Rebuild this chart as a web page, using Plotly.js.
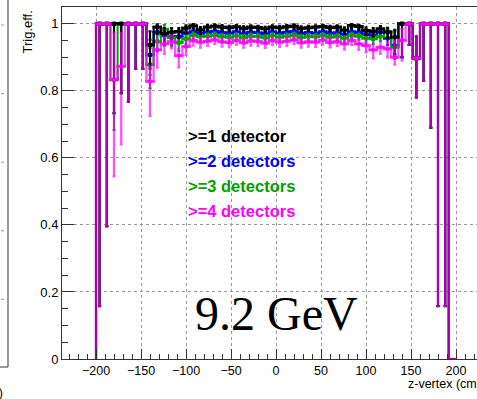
<!DOCTYPE html>
<html><head><meta charset="utf-8">
<script src="https://cdn.plot.ly/plotly-3.0.1.min.js"></script>
<style>html,body{margin:0;padding:0;overflow:hidden;background:#fff}</style>
</head><body>
<div id="chart" style="width:520px;height:399px"></div>
<script>
// ---- data ----
const binCenters = [-196,-188,-180,-172,-164,-156,-148,-140,-132,-124,-116,-108,-100,-92,-84,-76,-68,-60,-52,-44,-36,-28,-20,-12,-4,4,12,20,28,36,44,52,60,68,76,84,92,100,108,116,124,132,140,148,156,164,172,180,188,196];
const binHalfWidth = 4;

const effGe1 = [1,1,1,1,1,1,1,0.937,0.990,0.972, 0.975,0.977,0.987,0.994,0.982,0.990,0.993,0.990,0.988,0.991, 0.986,0.990,0.989,0.985,0.990,0.988,0.991,0.993,0.986,0.988, 0.990,0.992,0.988,0.990,0.981,0.995,0.992,0.980,0.977,0.985, 0.975,0.960,1,1,0.897,1,1,1,1,null];
const upGe1  = [0,0,0,0,0,0,0,0.040,0.008,0.015, 0.012,0.010,0.008,0.005,0.008,0.006,0.005,0.006,0.006,0.005, 0.006,0.005,0.005,0.006,0.005,0.006,0.005,0.005,0.006,0.006, 0.005,0.005,0.006,0.005,0.008,0.004,0.005,0.009,0.010,0.008, 0.012,0.022,0,0,0.065,0,0,0,0,null];
const dnGe1  = [0.842,0.604,0.267,0.207,0.232,0.134,0.134,0.071,0.020,0.030, 0.025,0.020,0.014,0.010,0.013,0.009,0.008,0.009,0.009,0.008, 0.009,0.008,0.008,0.009,0.008,0.009,0.008,0.008,0.009,0.009, 0.008,0.008,0.009,0.008,0.012,0.008,0.009,0.013,0.015,0.013, 0.018,0.050,0.100,0.063,0.117,0.170,0.310,0.842,0.842,null];

const effGe2 = [1,1,1,1,1,1,1,0.907,0.975,0.965, 0.962,0.962,0.972,0.976,0.972,0.975,0.978,0.974,0.972,0.976, 0.971,0.975,0.973,0.970,0.976,0.972,0.975,0.977,0.971,0.974, 0.972,0.976,0.972,0.973,0.968,0.976,0.974,0.968,0.966,0.975, 0.957,0.935,1,1,0.897,1,1,1,1,null];
const upGe2  = [0,0,0,0,0,0,0,0.045,0.012,0.015, 0.012,0.012,0.009,0.007,0.008,0.007,0.006,0.007,0.007,0.006, 0.007,0.007,0.007,0.007,0.006,0.007,0.007,0.006,0.007,0.007, 0.007,0.006,0.007,0.007,0.008,0.006,0.007,0.009,0.010,0.008, 0.015,0.045,0,0,0.065,0,0,0,0,null];
const dnGe2  = [0.842,0.604,0.267,0.207,0.232,0.134,0.134,0.060,0.025,0.030, 0.025,0.022,0.014,0.010,0.012,0.010,0.009,0.010,0.010,0.009, 0.010,0.010,0.010,0.010,0.009,0.010,0.010,0.009,0.010,0.010, 0.010,0.009,0.010,0.010,0.012,0.009,0.010,0.013,0.015,0.012, 0.020,0.028,0.100,0.063,0.117,0.170,0.310,0.842,0.842,null];

const effGe3 = [1,1,0.833,1,1,1,1,0.878,0.947,0.984, 0.958,0.944,0.955,0.966,0.962,0.963,0.966,0.962,0.960,0.964, 0.959,0.963,0.962,0.958,0.964,0.960,0.963,0.966,0.959,0.962, 0.961,0.965,0.960,0.962,0.957,0.965,0.963,0.957,0.955,0.962, 0.977,0.930,1,1,0.897,1,1,1,1,null];
const upGe3  = [0,0,0.167,0,0,0,0,0.050,0.020,0.012, 0.015,0.015,0.010,0.008,0.009,0.008,0.008,0.008,0.008,0.008, 0.008,0.008,0.008,0.008,0.008,0.008,0.008,0.008,0.008,0.008, 0.008,0.008,0.008,0.008,0.009,0.008,0.008,0.010,0.011,0.009, 0.012,0.045,0,0,0.065,0,0,0,0,null];
const dnGe3  = [0.842,0.604,0.150,0.207,0.232,0.134,0.134,0.070,0.030,0.025, 0.025,0.025,0.016,0.012,0.013,0.011,0.010,0.011,0.011,0.010, 0.011,0.011,0.011,0.011,0.010,0.011,0.011,0.010,0.011,0.011, 0.011,0.010,0.011,0.011,0.013,0.010,0.011,0.014,0.016,0.013, 0.020,0.035,0.100,0.063,0.117,0.170,0.310,0.842,0.842,null];

const effGe4 = [1,1,0.833,0.873,1,1,1,0.828,0.922,0.940, 0.947,0.905,0.932,0.950,0.945,0.948,0.952,0.946,0.944,0.950, 0.943,0.949,0.947,0.942,0.950,0.945,0.948,0.952,0.943,0.946, 0.945,0.951,0.944,0.947,0.940,0.950,0.940,0.935,0.922,0.930, 0.925,0.900,0.950,1,0.897,1,1,1,1,null];
const upGe4  = [0,0,0.140,0.100,0,0,0,0.045,0.030,0.020, 0.018,0.020,0.016,0.012,0.013,0.012,0.011,0.012,0.012,0.011, 0.012,0.012,0.012,0.012,0.011,0.012,0.012,0.011,0.012,0.012, 0.012,0.011,0.012,0.012,0.013,0.011,0.013,0.015,0.018,0.016, 0.020,0.050,0.035,0,0.065,0,0,0,0,null];
const dnGe4  = [0.842,0.604,0.288,0.233,0.232,0.134,0.134,0.103,0.053,0.030, 0.020,0.035,0.025,0.015,0.016,0.014,0.013,0.014,0.014,0.013, 0.014,0.014,0.014,0.014,0.013,0.014,0.014,0.013,0.014,0.014, 0.014,0.013,0.014,0.014,0.016,0.013,0.018,0.020,0.025,0.020, 0.025,0.022,0.060,0.063,0.117,0.170,0.310,0.842,0.842,null];

const seriesLabels = ['>=1 detector','>=2 detectors','>=3 detectors','>=4 detectors'];
const energyLabel = '9.2 GeV';
const xTitle = 'z-vertex (cm)';
const yTitle = 'Trig.eff.';

// ---- styling ----
const colors = {ge1:'#000000', ge2:'#0000ff', ge3:'#00a000', ge4:'rgba(255,0,255,0.68)'};
const textColors = ['#000000','#0000ff','#00a000','#ff00ff'];

function stepTrace(eff, color, w){
  const xs=[], ys=[];
  const n = binCenters.length;
  xs.push(binCenters[0]-binHalfWidth); ys.push(0);
  for(let i=0;i<n;i++){ xs.push(binCenters[i]-binHalfWidth); ys.push(eff[i]==null?0:eff[i]); }
  xs.push(binCenters[n-1]+binHalfWidth); ys.push(eff[n-1]==null?0:eff[n-1]);
  xs.push(binCenters[n-1]+binHalfWidth); ys.push(0);
  return {x:xs, y:ys, mode:'lines', line:{shape:'hv', color:color, width:w}, hoverinfo:'skip', showlegend:false};
}
function errTrace(eff, up, dn, color, w){
  return {x:binCenters, y:eff, mode:'markers', showlegend:false,
    marker:{symbol:'square', size:4, color:color},
    error_y:{type:'data', symmetric:false, array:up, arrayminus:dn, color:color, thickness:w, width:1.5},
    error_x:{type:'constant', value:binHalfWidth, color:color, thickness:w, width:1.5}};
}

const data = [
  stepTrace(effGe2, colors.ge2, 2), errTrace(effGe2, upGe2, dnGe2, colors.ge2, 2),
  stepTrace(effGe3, colors.ge3, 2), errTrace(effGe3, upGe3, dnGe3, colors.ge3, 2),
  stepTrace(effGe1, colors.ge1, 2.2), errTrace(effGe1, upGe1, dnGe1, colors.ge1, 2.2),
  stepTrace(effGe4, colors.ge4, 2.3), errTrace(effGe4, upGe4, dnGe4, colors.ge4, 2.3)
];

// pixel helpers for decorations (plot area: x 62..492, y 7..359)
const PL=62, PR=492, PT=7, PB=359;
const px = v => (v-PL)/(PR-PL);
const py = v => (PB-v)/(PB-PT);

const FONT = 'Liberation Sans, Arial, Helvetica, sans-serif';
const annotations = [];
const legY = [136, 160.7, 186, 211];
seriesLabels.forEach((t,i)=>annotations.push({text:'<b>'+t.replace(/>/g,'&gt;')+'</b>', xref:'paper', yref:'paper', x:px(186), y:py(legY[i]), xanchor:'left', yanchor:'middle', showarrow:false, font:{family:FONT, size:16.5, color:textColors[i]}}));
annotations.push({text:energyLabel, xref:'paper', yref:'paper', x:px(276.5), y:py(313), xanchor:'center', yanchor:'middle', showarrow:false, font:{family:'Liberation Serif, Times New Roman, serif', size:48, color:'#000'}});
annotations.push({text:xTitle, xref:'paper', yref:'paper', x:px(483), y:py(383.5), xanchor:'right', yanchor:'middle', showarrow:false, font:{family:FONT, size:12.5, color:'#000'}});
annotations.push({text:yTitle, xref:'paper', yref:'paper', x:px(27), y:py(9), xanchor:'center', yanchor:'top', textangle:-90, showarrow:false, font:{family:FONT, size:13, color:'#000'}});
// neighbouring pad's clipped x title
annotations.push({text:xTitle, xref:'paper', yref:'paper', x:px(5), y:py(392.5), xanchor:'right', yanchor:'middle', showarrow:false, font:{family:FONT, size:12.5, color:'#000'}});

const shapes = [
  {type:'line', xref:'paper', yref:'paper', x0:px(8), x1:px(8), y0:py(-5), y1:py(367), line:{color:'#333', width:1}},
  {type:'line', xref:'paper', yref:'paper', x0:px(-5), x1:px(8), y0:py(367), y1:py(367), line:{color:'#333', width:1}}
];
[25, 93.6, 162.2, 230.8, 299.4].forEach(v=>shapes.push({type:'line', xref:'paper', yref:'paper', x0:px(-5), x1:px(7.5), y0:py(v), y1:py(v), line:{color:'#999', width:1, dash:'dot'}}));

const layout = {
  width:520, height:399,
  margin:{l:PL, r:520-PR, t:PT, b:399-PB, pad:0},
  paper_bgcolor:'#fff', plot_bgcolor:'#fff',
  showlegend:false,
  xaxis:{range:[-237.8, 240], tick0:0, dtick:50, ticks:'inside', ticklen:10, tickcolor:'#333', tickwidth:1,
    minor:{dtick:10, ticks:'inside', ticklen:5, tickcolor:'#333', showgrid:false},
    showgrid:true, gridcolor:'#999', griddash:'dot', gridwidth:1, zeroline:false,
    showline:true, mirror:true, linecolor:'#333', linewidth:1,
    tickfont:{family:FONT, size:12.5, color:'#000'}},
  yaxis:{range:[0, 1.05], tick0:0, dtick:0.2, ticks:'inside', ticklen:12, tickcolor:'#333', tickwidth:1,
    minor:{dtick:0.05, ticks:'inside', ticklen:6, tickcolor:'#333', showgrid:false},
    showgrid:true, gridcolor:'#999', griddash:'dot', gridwidth:1, zeroline:false,
    showline:true, mirror:true, linecolor:'#333', linewidth:1,
    tickfont:{family:FONT, size:13, color:'#000'}},
  annotations:annotations, shapes:shapes
};

Plotly.newPlot('chart', data, layout, {staticPlot:true, displayModeBar:false});
</script>
</body></html>
